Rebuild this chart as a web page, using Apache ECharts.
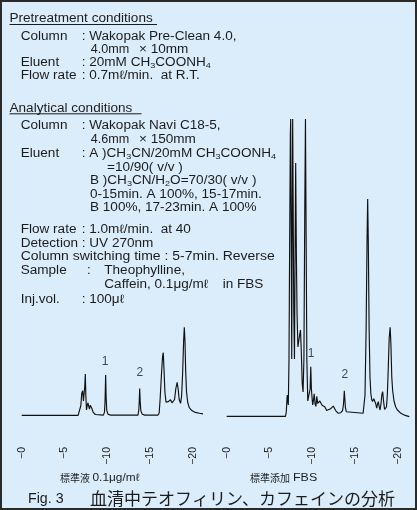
<!DOCTYPE html>
<html><head><meta charset="utf-8">
<script src="https://cdn.jsdelivr.net/npm/echarts@6/dist/echarts.min.js"></script>
<style>html,body{margin:0;padding:0;background:#dbecfb}#c{width:417px;height:510px}</style>
</head><body><div id="c"></div>
<script>
// ---- data ----
const tickValues = [0, 5, 10, 15, 20];
const tickLabels = ['−0', '−5', '−10', '−15', '−20'];

// [retention time (min), detector signal]
const leftTrace = [
  [0,1.2],[6.6,1.2],[6.78,1.6],[6.92,4.5],[7.02,8.5],[7.13,9.4],[7.22,6],[7.3,5.5],[7.38,11],[7.44,15],[7.5,8],
  [7.58,3],[7.67,4.6],[7.75,5.4],[7.84,4.2],[7.93,3.3],[8.02,4.6],[8.1,5],[8.2,3.6],[8.35,2.3],[8.6,1.5],
  [9.55,1.3],[9.68,2.2],[9.75,6],[9.82,14.7],[9.88,7],[9.95,2.8],[10.1,1.6],[10.4,1.3],
  [13.6,1.3],[13.7,3],[13.75,6],[13.8,10.2],[13.86,6],[13.93,2.8],[14.1,1.6],[14.4,1.3],
  [15.95,1.3],[16.08,2],[16.2,7],[16.35,15],[16.48,21],[16.56,22.1],[16.64,17],[16.75,9],[16.88,5.6],[16.98,5.2],
  [17.15,5.8],[17.4,6.4],[17.58,5.4],[17.72,4.8],[17.88,6.5],[18.02,10],[18.18,12.2],[18.3,10],[18.42,6.5],
  [18.58,5.2],[18.7,7.5],[18.82,15],[18.94,26],[19.02,30.6],[19.1,26],[19.18,16],[19.28,9],[19.42,5.5],
  [19.6,3.8],[19.9,2.8],[20.3,2.2],[20.8,1.9],[21.2,1.7]
];
const rightTrace = [
  [0,0.9],[6.85,0.9],[6.95,2.5],[7.02,6.5],[7.06,8],[7.12,6],[7.18,4.7],[7.26,20],[7.34,60],[7.42,95],[7.46,100],
  [7.52,60],[7.58,20],[7.63,60],[7.69,100],[7.75,70],[7.82,35],[7.9,20],[7.97,55],[8.04,85.3],[8.12,55],[8.2,35],
  [8.3,24],[8.45,27],[8.6,29.7],[8.7,22],[8.8,12],[8.9,9],[9.0,20],[9.1,70],[9.18,100],[9.26,60],[9.34,20],
  [9.45,6],[9.6,6.5],[9.72,10],[9.8,17.4],[9.87,10],[9.94,7.4],[10.02,4.7],[10.1,6],[10.2,8.4],[10.3,5],
  [10.4,4.2],[10.5,7.6],[10.6,5.2],[10.72,4.7],[10.85,6],[11.0,5.6],[11.12,4.6],[11.26,5.2],[11.45,4],
  [11.65,2.8],[11.84,2.4],[12.1,3.4],[12.42,4.3],[12.7,2.8],[13.0,1.9],[13.3,2.1],[13.5,2.8],[13.6,4.5],
  [13.66,7],[13.71,9.4],[13.76,7],[13.84,3.8],[13.95,2.4],[14.1,2.0],[15.9,1.9],[16.0,2.5],[16.12,8],
  [16.25,30],[16.36,60],[16.43,73.3],[16.5,60],[16.6,30],[16.7,14],[16.8,8.5],[16.9,6.5],[17.0,5.8],
  [17.14,6.8],[17.28,7.4],[17.38,5],[17.48,3.6],[17.58,5],[17.67,5.8],[17.77,4.2],[17.87,3],[17.98,5],
  [18.08,8],[18.18,9.1],[18.28,6],[18.4,3.2],[18.5,3],[18.62,4],[18.72,8],[18.82,16],[18.94,27],[19.05,30.6],
  [19.14,25],[19.24,14],[19.34,9.5],[19.5,6],[19.7,4],[19.9,3],[20.3,1.9],[20.8,1.2],[21.28,0.8]
];
// peak numbers: [time, signal, text]
const leftPeakLabels = [[9.76, 19.0, '1'], [13.82, 15.3, '2']];
const rightPeakLabels = [[9.83, 21.9, '1'], [13.78, 14.7, '2']];

const sampleNames = ['標準液', '標準添加'];
const sampleNotes = ['0.1μg/mℓ', 'FBS'];
const captionFig = 'Fig. 3';
const captionText = '血清中テオフィリン、カフェインの分析';

const pretreatment = {
  title: 'Pretreatment conditions',
  column: 'Wakopak Pre-Clean 4.0,', columnSize: ['4.0mm', '× 10mm'],
  eluent: '20mM CH{s|3}COONH{s|4}', flow: '0.7mℓ/min.  at R.T.'
};
const analytical = {
  title: 'Analytical conditions',
  column: 'Wakopak Navi C18-5,', columnSize: ['4.6mm', '× 150mm'],
  eluentA: 'A )CH{s|3}CN/20mM CH{s|3}COONH{s|4}', ratioA: '=10/90( v/v )',
  eluentB: 'B )CH{s|3}CN/H{s|2}O=70/30( v/v )',
  grad1: '0-15min. A 100%, 15-17min.', grad2: 'B 100%, 17-23min. A 100%',
  flow: '1.0mℓ/min.  at 40', detection: 'UV 270nm', switching: '5-7min. Reverse',
  sample1: 'Theophylline,', sample2: 'Caffein, 0.1μg/mℓ', sample3: 'in FBS', inj: '100μℓ'
};

// ---- layout ----
const FONT = 'Liberation Sans';
const INK = '#1c1c1c';
const SX = 1.13;
const rich = { s: { fontSize: 8, lineHeight: 8, verticalAlign: 'bottom', fontFamily: FONT, fill: INK } };
function txt(x, y, text, o) {
  o = o || {};
  return {
    type: 'text', x: x, y: y, scaleX: o.sx == null ? SX : o.sx, z: 10,
    style: {
      text: text, fontSize: o.size || 12, fontFamily: o.font || FONT, fill: INK,
      align: 'left', verticalAlign: 'middle', lineHeight: 14, rich: rich
    }
  };
}
function uline(x1, x2, y) {
  return { type: 'line', z: 10, shape: { x1: x1, y1: y, x2: x2, y2: y }, style: { stroke: INK, lineWidth: 1 } };
}
const LX = 20.7, CX = 81.7;
const g = [];
g.push({ type: 'rect', z: 100, shape: { x: 1, y: 1, width: 415, height: 508 }, style: { fill: 'none', stroke: '#2a2a2a', lineWidth: 2 } });
g.push(txt(9.5, 19, pretreatment.title), uline(9.5, 157, 24.5));
g.push(txt(LX, 36.5, 'Column'), txt(CX, 36.5, ': ' + pretreatment.column));
g.push(txt(90.7, 49.5, pretreatment.columnSize[0], { sx: 1.05 }), txt(139, 49.5, pretreatment.columnSize[1]));
g.push(txt(LX, 62.5, 'Eluent'), txt(CX, 62.5, ': ' + pretreatment.eluent));
g.push(txt(LX, 75.5, 'Flow rate'), txt(CX, 75.5, ': ' + pretreatment.flow));

g.push(txt(9.5, 108.3, analytical.title), uline(9.5, 141.5, 113.8));
g.push(txt(LX, 126, 'Column'), txt(CX, 126, ': ' + analytical.column));
g.push(txt(90.7, 140, analytical.columnSize[0], { sx: 1.05 }), txt(139, 140, analytical.columnSize[1]));
g.push(txt(LX, 154, 'Eluent'), txt(CX, 154, ': ' + analytical.eluentA));
g.push(txt(107, 167.5, analytical.ratioA));
g.push(txt(90, 181, analytical.eluentB));
g.push(txt(90, 194.5, analytical.grad1));
g.push(txt(90, 208, analytical.grad2));
g.push(txt(LX, 229.5, 'Flow rate'), txt(CX, 229.5, ': ' + analytical.flow));
g.push(txt(LX, 243.5, 'Detection : ' + analytical.detection));
g.push(txt(LX, 257, 'Column switching time : ' + analytical.switching, { sx: 1.165 }));
g.push(txt(LX, 271, 'Sample'), txt(87, 271, ':'), txt(104.3, 271, analytical.sample1));
g.push(txt(104.3, 284.5, analytical.sample2), txt(222.7, 284.5, analytical.sample3));
g.push(txt(LX, 300, 'Inj.vol.'), txt(CX, 300, ': ' + analytical.inj));

const CJK = 'Noto Sans CJK JP';
g.push(txt(60, 478, sampleNames[0], { font: CJK, size: 10, sx: 1 }), txt(92.5, 478, sampleNotes[0], { size: 10.5 }));
g.push(txt(250, 478, sampleNames[1], { font: CJK, size: 10, sx: 1 }), txt(293, 478, sampleNotes[1], { size: 11 }));
g.push(txt(28, 499, captionFig, { size: 15, sx: 0.95 }), txt(90, 499, captionText, { font: CJK, size: 17, sx: 1 }));

function xAx(i) {
  return {
    type: 'value', gridIndex: i, min: 0, max: 21.3, interval: 5,
    axisLine: { show: false }, axisTick: { show: false }, splitLine: { show: false },
    axisLabel: {
      rotate: 90, margin: 28, fontSize: 10.5, fontFamily: FONT, color: INK,
      formatter: v => { const k = tickValues.indexOf(v); return k < 0 ? '' : tickLabels[k]; }
    }
  };
}
function yAx(i) { return { type: 'value', gridIndex: i, min: 0, max: 100, show: false }; }
function trace(data, i) {
  return { type: 'line', xAxisIndex: i, yAxisIndex: i, data: data, showSymbol: false, symbol: 'none',
    lineStyle: { color: '#111', width: 1.15 }, animation: false, z: 2 };
}
function peaks(data, i) {
  return { type: 'scatter', xAxisIndex: i, yAxisIndex: i, data: data, symbolSize: 1,
    itemStyle: { color: 'rgba(0,0,0,0)' }, animation: false, silent: true, z: 5,
    label: { show: true, position: 'inside', formatter: p => p.data[2], fontSize: 12, fontFamily: FONT, color: INK } };
}
const chart = echarts.init(document.getElementById('c'), null, { renderer: 'canvas' });
chart.setOption({
  backgroundColor: '#dbecfb',
  animation: false,
  grid: [
    { left: 21.7, top: 119, width: 182.1, height: 300 },
    { left: 226.7, top: 119, width: 182.75, height: 300 }
  ],
  xAxis: [xAx(0), xAx(1)],
  yAxis: [yAx(0), yAx(1)],
  series: [trace(leftTrace, 0), trace(rightTrace, 1), peaks(leftPeakLabels, 0), peaks(rightPeakLabels, 1)],
  graphic: g
});
</script></body></html>
